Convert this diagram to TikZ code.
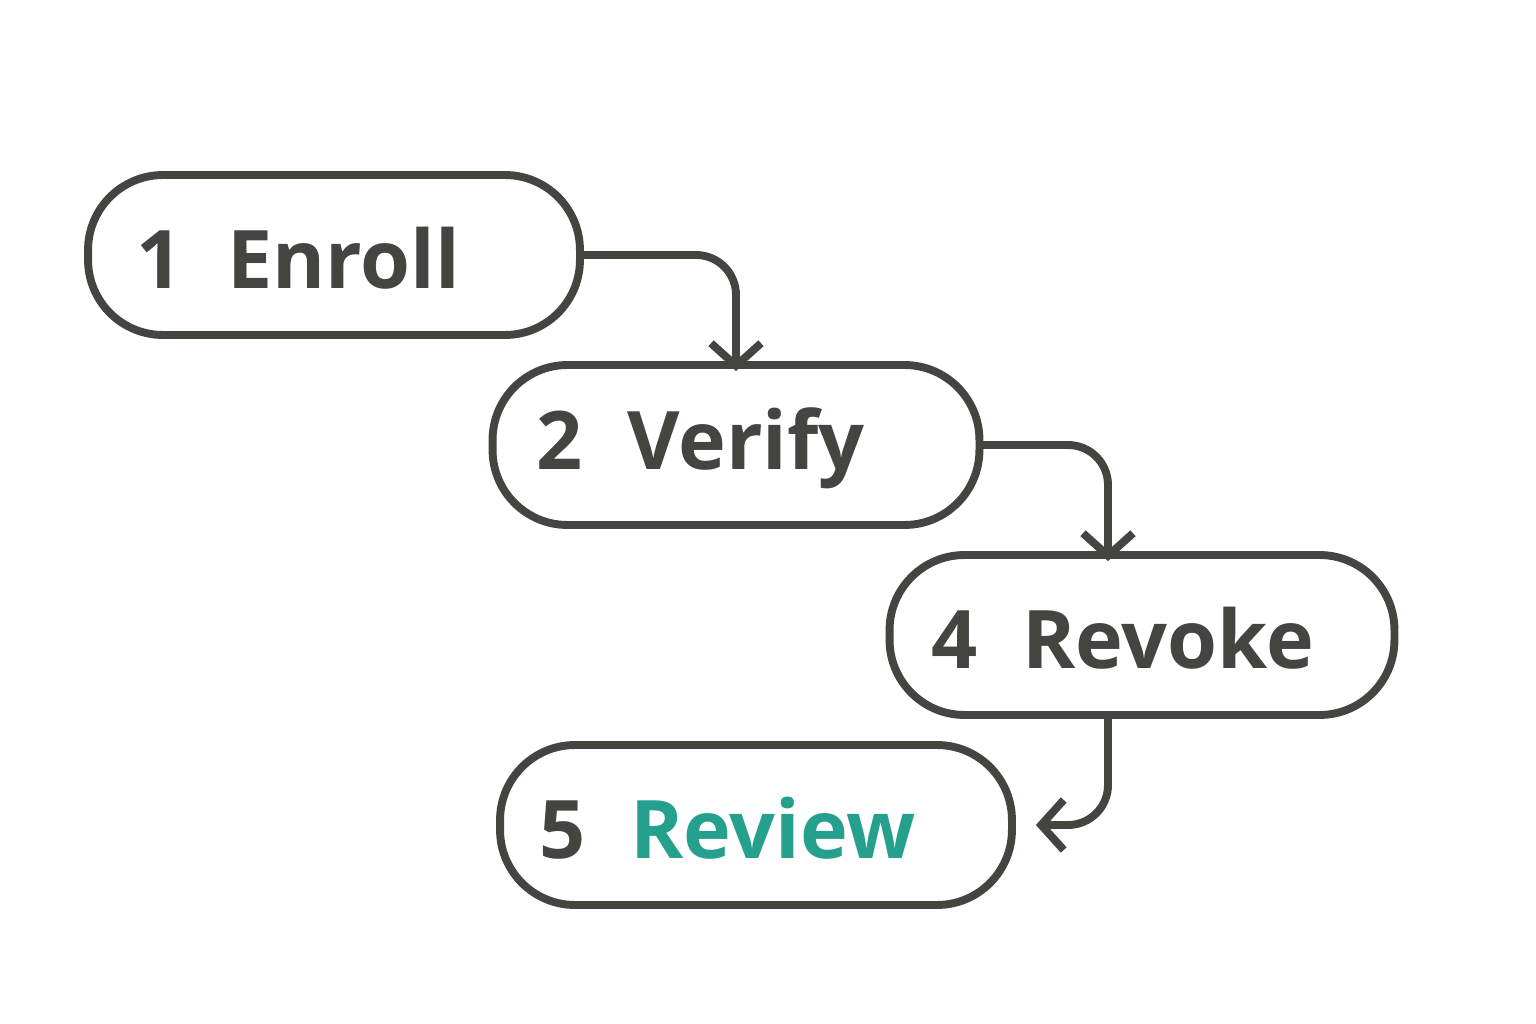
\documentclass[tikz,border=0pt]{standalone}
\usepackage{fontspec}
\setmainfont{Open Sans}
\usetikzlibrary{arrows.meta}
\definecolor{ink}{HTML}{444440}
\definecolor{teal}{HTML}{26A08E}
\tikzset{
  stage/.style={draw=ink, line width=4.5pt, rounded corners=1.5cm, minimum height=3.2cm, anchor=center},
  label/.style={anchor=west, text=ink, font=\fontsize{46}{50}\selectfont\bfseries},
  flow/.style={draw=ink, line width=4.5pt, rounded corners=0.8cm, line cap=round, -{Straight Barb[length=0.45cm, width=1.0cm, line width=4.5pt]}}
}
\begin{document}
\begin{tikzpicture}[x=0.02cm, y=-0.02cm]
  \useasboundingbox (0,0) rectangle (1536,1024);
  \node[stage, minimum width=9.84cm] (enroll) at (334,255) {};
  \node[stage, minimum width=9.74cm] (verify) at (736,445) {};
  \node[stage, minimum width=10.1cm] (revoke) at (1142,635) {};
  \node[stage, minimum width=10.24cm] (review) at (756,825) {};
  \node[label] (t1) at (130,258) {1\hspace{0.9cm}Enroll};
  \node[label] (t2) at (530,448) {2\hspace{0.9cm}Verify};
  \node[label] (t4) at (925,638) {4\hspace{0.9cm}Revoke};
  \node[label] (t5) at (533,828) {5\hspace{0.9cm}\textcolor{teal}{Review}};
  \coordinate (a2) at ([yshift=-0.2cm]verify.north);
  \coordinate (a4) at ([xshift=-0.68cm, yshift=-0.2cm]revoke.north);
  \coordinate (s4) at ([xshift=-0.68cm]revoke.south);
  \coordinate (a5) at ([xshift=0.4cm]review.east);
  \draw[flow] (enroll.east) -| (a2);
  \draw[flow] (verify.east) -| (a4);
  \draw[flow] (s4) |- (a5);
\end{tikzpicture}
\end{document}
